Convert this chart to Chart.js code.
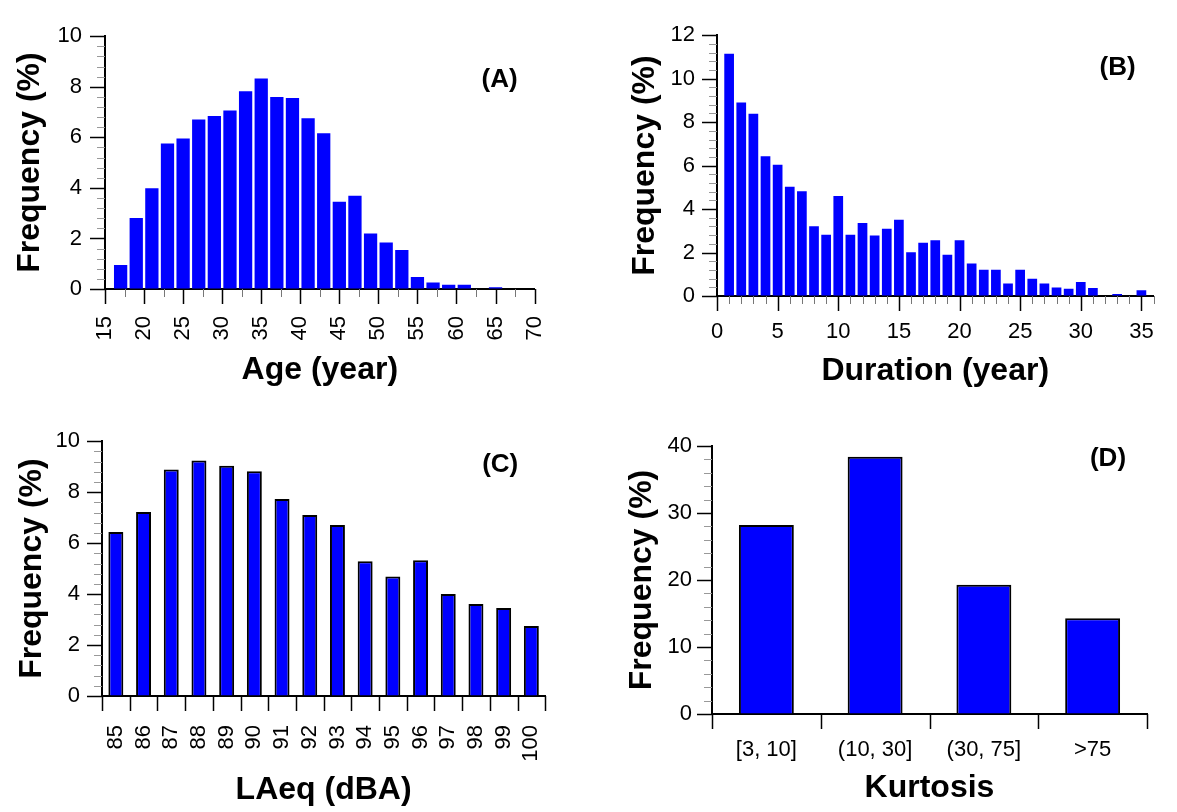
<!DOCTYPE html>
<html>
<head>
<meta charset="utf-8">
<script src="https://cdn.jsdelivr.net/npm/chart.js@4/dist/chart.umd.min.js"></script>
<style>
body { margin: 0; background: #fff; }
canvas { position: absolute; }
</style>
</head>
<body>
<canvas id="cA" width="588" height="406" style="left:0;top:0"></canvas>
<canvas id="cB" width="589" height="406" style="left:588px;top:0"></canvas>
<canvas id="cC" width="588" height="406" style="left:0;top:406px"></canvas>
<canvas id="cD" width="589" height="406" style="left:588px;top:406px"></canvas>
<script>
// (A) age, 2-year bins (bin centres)
var ageBins = [17, 19, 21, 23, 25, 27, 29, 31, 33, 35, 37, 39, 41, 43, 45, 47, 49, 51, 53, 55, 57, 59, 61, 63, 65, 67, 69];
var ageFreq = [0.95, 2.81, 3.99, 5.76, 5.95, 6.70, 6.84, 7.06, 7.82, 8.33, 7.59, 7.56, 6.75, 6.16, 3.45, 3.69, 2.20, 1.84, 1.54, 0.47, 0.26, 0.17, 0.17, 0, 0.07, 0, 0];

// (B) exposure duration, 1-year bins
var durBins = [1, 2, 3, 4, 5, 6, 7, 8, 9, 10, 11, 12, 13, 14, 15, 16, 17, 18, 19, 20, 21, 22, 23, 24, 25, 26, 27, 28, 29, 30, 31, 32, 33, 34, 35];
var durFreq = [11.15, 8.90, 8.39, 6.43, 6.04, 5.03, 4.82, 3.21, 2.82, 4.60, 2.82, 3.36, 2.78, 3.09, 3.51, 2.01, 2.45, 2.57, 1.90, 2.57, 1.49, 1.21, 1.21, 0.57, 1.21, 0.79, 0.58, 0.39, 0.33, 0.64, 0.37, 0, 0.09, 0, 0.27];
var durTicks = [0, 5, 10, 15, 20, 25, 30, 35];

// (C) LAeq
var laeqLabels = ['85', '86', '87', '88', '89', '90', '91', '92', '93', '94', '95', '96', '97', '98', '99', '100'];
var laeqFreq = [6.44, 7.22, 8.89, 9.24, 9.04, 8.82, 7.73, 7.10, 6.71, 5.29, 4.69, 5.33, 4.00, 3.61, 3.45, 2.75];

// (D) kurtosis
var kurtLabels = ['[3, 10]', '(10, 30]', '(30, 75]', '>75'];
var kurtFreq = [28.2, 38.4, 19.3, 14.3];

var FONT = '"Liberation Sans", Arial, sans-serif';
var BLUE = '#0000ff';
var TICK = 22;

// major / minor tick marks + panel tag
function marks(cfg) {
    return {
        id: 'marks',
        afterDraw: function (chart) {
            var ctx = chart.ctx, xs = chart.scales.x, ys = chart.scales.y;
            var y0 = ys.getPixelForValue(0), x0 = chart.chartArea.left;
            ctx.save();
            var n = Math.round((ys.max - ys.min) / cfg.yMinor);
            for (var i = 0; i <= n; i++) {
                var v = ys.min + i * cfg.yMinor;
                var major = Math.abs(v / cfg.yMajor - Math.round(v / cfg.yMajor)) < 1e-6;
                var py = Math.round(ys.getPixelForValue(v)) + 0.5;
                ctx.beginPath();
                ctx.strokeStyle = major ? '#000' : '#999';
                ctx.lineWidth = major ? 1.5 : 1;
                ctx.moveTo(x0, py);
                ctx.lineTo(x0 - (major ? 15 : 8), py);
                ctx.stroke();
            }
            if (cfg.category) {
                var cnt = xs.getLabels().length;
                for (var j = 0; j <= cnt; j++) {
                    var px = Math.round(xs.getPixelForValue(j - 0.5)) + 0.5;
                    ctx.beginPath();
                    ctx.strokeStyle = '#000';
                    ctx.lineWidth = 1.5;
                    ctx.moveTo(px, y0);
                    ctx.lineTo(px, y0 + 15);
                    ctx.stroke();
                }
            } else {
                var m = Math.round((xs.max - xs.min) / cfg.xMinor);
                for (var k = 0; k <= m; k++) {
                    var xv = xs.min + k * cfg.xMinor;
                    var mj = Math.abs(xv / cfg.xMajor - Math.round(xv / cfg.xMajor)) < 1e-6;
                    var qx = Math.round(xs.getPixelForValue(xv)) + 0.5;
                    ctx.beginPath();
                    ctx.strokeStyle = mj ? '#000' : '#777';
                    ctx.lineWidth = mj ? 1.5 : 1;
                    ctx.moveTo(qx, y0);
                    ctx.lineTo(qx, y0 + (mj ? 15 : 8));
                    ctx.stroke();
                }
            }
            ctx.fillStyle = '#000';
            ctx.font = 'bold 26px ' + FONT;
            ctx.textAlign = 'center';
            ctx.textBaseline = 'middle';
            ctx.fillText(cfg.tag, chart.chartArea.right + cfg.dx, chart.chartArea.top + cfg.dy);
            ctx.restore();
        }
    };
}

function yAxis(max, step, width, titlePad, tickPad) {
    return {
        min: 0, max: max,
        ticks: { stepSize: step, padding: tickPad, color: '#000', font: { family: FONT, size: TICK } },
        grid: { drawOnChartArea: false, drawTicks: false },
        border: { color: '#000', width: 2 },
        title: { display: true, text: 'Frequency (%)', color: '#000',
                 font: { family: FONT, size: 32, weight: 'bold' }, padding: { top: titlePad, bottom: 0 } },
        afterFit: function (s) { s.width = width; }
    };
}

function xTitle(text, pad) {
    return { display: true, text: text, color: '#000',
             font: { family: FONT, size: 32, weight: 'bold' }, padding: { top: 0, bottom: pad } };
}

var common = {
    responsive: false,
    animation: false,
    events: [],
    plugins: { legend: { display: false }, tooltip: { enabled: false } }
};

function opts(extra) {
    return Object.assign({}, common, extra);
}

// (A)
new Chart(document.getElementById('cA'), {
    type: 'bar',
    data: {
        datasets: [{
            data: ageBins.map(function (b, i) { return { x: b, y: ageFreq[i] }; }),
            backgroundColor: BLUE, borderWidth: 0,
            barPercentage: 0.85, categoryPercentage: 1
        }]
    },
    options: opts({
        layout: { padding: { top: 21, right: 37, left: 0, bottom: 0 } },
        scales: {
            x: {
                type: 'linear', offset: false, min: 15, max: 70,
                ticks: { stepSize: 5, minRotation: 90, maxRotation: 90, autoSkip: false, padding: 27,
                         color: '#000', font: { family: FONT, size: TICK } },
                grid: { drawOnChartArea: false, drawTicks: false },
                border: { color: '#000', width: 2 },
                title: xTitle('Age (year)', 17),
                afterFit: function (s) { s.height = 117; }
            },
            y: yAxis(10, 2, 105, 11, 23)
        }
    }),
    plugins: [marks({ xMajor: 5, xMinor: 2.5, yMajor: 2, yMinor: 0.4, tag: '(A)', dx: -35, dy: 44 })]
});

// (B)
new Chart(document.getElementById('cB'), {
    type: 'bar',
    data: {
        datasets: [{
            data: durBins.map(function (b, i) { return { x: b, y: durFreq[i] }; }),
            backgroundColor: BLUE, borderWidth: 0,
            barPercentage: 0.8, categoryPercentage: 1
        }]
    },
    options: opts({
        layout: { padding: { top: 28, right: 13, left: 0, bottom: 0 } },
        scales: {
            x: {
                type: 'linear', offset: false, min: 0, max: 36,
                ticks: { maxRotation: 0, autoSkip: false, padding: 23,
                         color: '#000', font: { family: FONT, size: TICK } },
                afterBuildTicks: function (s) { s.ticks = durTicks.map(function (v) { return { value: v }; }); },
                grid: { drawOnChartArea: false, drawTicks: false },
                border: { color: '#000', width: 2 },
                title: xTitle('Duration (year)', 16),
                afterFit: function (s) { s.height = 110; }
            },
            y: yAxis(12, 2, 129, 38, 22)
        }
    }),
    plugins: [marks({ xMajor: 5, xMinor: 1, yMajor: 2, yMinor: 0.4, tag: '(B)', dx: -36, dy: 33 })]
});

// (C)
new Chart(document.getElementById('cC'), {
    type: 'bar',
    data: {
        labels: laeqLabels,
        datasets: [{
            data: laeqFreq,
            backgroundColor: BLUE, borderColor: '#000', borderWidth: 2,
            barPercentage: 0.54, categoryPercentage: 1
        }]
    },
    options: opts({
        layout: { padding: { top: 22, right: 40, left: 0, bottom: 0 } },
        scales: {
            x: {
                ticks: { minRotation: 90, maxRotation: 90, autoSkip: false, padding: 29,
                         color: '#000', font: { family: FONT, size: TICK } },
                grid: { drawOnChartArea: false, drawTicks: false },
                border: { color: '#000', width: 2 },
                title: xTitle('LAeq (dBA)', 3),
                afterFit: function (s) { s.height = 116; }
            },
            y: yAxis(10, 2, 102, 13, 22)
        }
    }),
    plugins: [marks({ category: true, yMajor: 2, yMinor: 0.4, tag: '(C)', dx: -45, dy: 24 })]
});

// (D)
new Chart(document.getElementById('cD'), {
    type: 'bar',
    data: {
        labels: kurtLabels,
        datasets: [{
            data: kurtFreq,
            backgroundColor: BLUE, borderColor: '#000', borderWidth: 2,
            barPercentage: 0.505, categoryPercentage: 1
        }]
    },
    options: opts({
        layout: { padding: { top: 40, right: 30, left: 0, bottom: 0 } },
        scales: {
            x: {
                ticks: { maxRotation: 0, autoSkip: false, padding: 23,
                         color: '#000', font: { family: FONT, size: TICK } },
                grid: { drawOnChartArea: false, drawTicks: false },
                border: { color: '#000', width: 2 },
                title: xTitle('Kurtosis', 5),
                afterFit: function (s) { s.height = 98; }
            },
            y: yAxis(40, 10, 124, 35, 20)
        }
    }),
    plugins: [marks({ category: true, yMajor: 10, yMinor: 2, tag: '(D)', dx: -39, dy: 13 })]
});
</script>
</body>
</html>
